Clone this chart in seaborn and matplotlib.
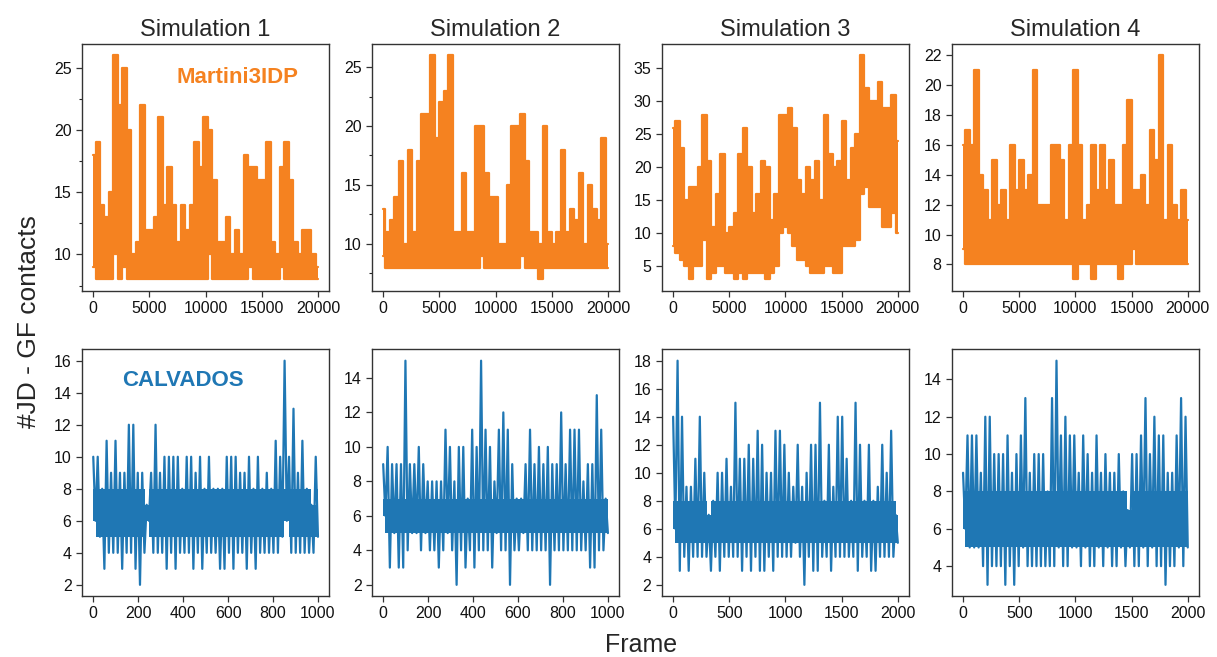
import numpy as np
import matplotlib
matplotlib.use("Agg")
import matplotlib.pyplot as plt
from matplotlib.ticker import MultipleLocator
import seaborn as sns

# Envelope values (upper / lower contact count per window)
# Martini3IDP: 20000 frames, one value every 400 frames
m1_hi = [18, 19, 14, 13, 15, 26, 22, 25, 20, 10,
         11, 22, 12, 12, 13, 21, 14, 17, 14, 11,
         14, 12, 14, 19, 17, 21, 20, 16, 11, 11,
         13, 10, 12, 10, 18, 17, 17, 16, 16, 19,
         11, 10, 17, 19, 16, 11, 10, 12, 12, 10, 9]
m1_lo = [9, 8, 8, 8, 8, 10, 8, 9, 8, 8,
         8, 8, 8, 8, 8, 8, 8, 8, 8, 8,
         8, 8, 8, 8, 8, 8, 10, 8, 8, 8,
         8, 8, 8, 8, 8, 9, 8, 8, 8, 8,
         8, 8, 9, 8, 8, 8, 8, 8, 8, 8, 8]

m2_hi = [13, 11, 12, 14, 17, 10, 18, 11, 17, 21,
         21, 26, 19, 22, 23, 26, 11, 11, 16, 11,
         11, 20, 20, 16, 14, 14, 10, 10, 15, 20,
         20, 21, 17, 11, 11, 10, 20, 11, 10, 11,
         18, 11, 13, 12, 16, 10, 15, 13, 12, 19, 10]
m2_lo = [9, 8, 8, 8, 8, 8, 8, 8, 8, 8,
         8, 8, 8, 8, 8, 8, 8, 8, 8, 8,
         8, 8, 9, 8, 8, 8, 8, 8, 8, 8,
         8, 9, 8, 8, 8, 7, 8, 8, 8, 8,
         8, 8, 8, 8, 8, 8, 8, 8, 8, 8, 8]

m3_hi = [26, 27, 23, 15, 17, 17, 20, 28, 21, 11,
         16, 22, 10, 11, 13, 22, 26, 20, 13, 16,
         21, 20, 12, 16, 28, 28, 29, 26, 18, 16,
         20, 18, 21, 15, 28, 22, 20, 21, 27, 18,
         23, 25, 37, 32, 30, 30, 33, 29, 29, 31, 24]
m3_lo = [8, 7, 6, 5, 3, 5, 5, 9, 3, 4,
         5, 5, 4, 4, 3, 4, 3, 4, 4, 4,
         4, 3, 4, 5, 10, 11, 10, 8, 6, 6,
         5, 4, 4, 4, 5, 5, 4, 4, 8, 8,
         8, 9, 16, 17, 14, 14, 14, 11, 11, 13, 10]

m4_hi = [16, 17, 16, 21, 14, 13, 11, 15, 12, 13,
         11, 16, 13, 15, 13, 14, 21, 12, 12, 12,
         16, 16, 15, 11, 16, 21, 16, 11, 12, 16,
         13, 16, 13, 15, 12, 12, 16, 19, 13, 13,
         14, 12, 17, 15, 22, 11, 16, 12, 11, 13, 11]
m4_lo = [9, 8, 8, 8, 8, 8, 8, 8, 8, 8,
         8, 8, 8, 8, 8, 8, 8, 8, 8, 8,
         8, 8, 8, 8, 8, 7, 8, 8, 8, 7,
         8, 8, 8, 8, 8, 7, 8, 8, 9, 8,
         8, 8, 8, 8, 8, 8, 8, 8, 8, 8, 8]

# CALVADOS: sims 1-2 have 1000 frames (every 20), sims 3-4 have 2000 frames (every 40)
c1_hi = [10, 10, 8, 11, 9, 11, 9, 9, 12, 12,
         9, 9, 7, 9, 12, 9, 10, 10, 10, 10,
         8, 10, 10, 9, 10, 8, 10, 8, 8, 8,
         10, 10, 10, 9, 9, 10, 8, 10, 8, 9,
         8, 11, 10, 16, 10, 13, 9, 11, 8, 7, 10]
c1_lo = [6, 5, 3, 4, 4, 4, 3, 4, 4, 3,
         2, 4, 6, 4, 4, 4, 3, 4, 3, 4,
         4, 4, 3, 4, 3, 4, 4, 4, 3, 3,
         4, 3, 4, 4, 3, 4, 3, 4, 4, 4,
         4, 4, 5, 6, 4, 4, 4, 4, 4, 4, 5]

c2_hi = [9, 10, 9, 9, 9, 15, 9, 9, 10, 9,
         8, 8, 8, 8, 11, 10, 8, 10, 10, 7,
         11, 10, 15, 11, 10, 8, 11, 12, 11, 9,
         7, 7, 9, 11, 9, 10, 9, 10, 9, 9,
         12, 9, 11, 11, 11, 8, 9, 9, 13, 11, 7]
c2_lo = [6, 3, 5, 3, 3, 4, 5, 5, 4, 5,
         4, 4, 3, 4, 5, 4, 2, 4, 3, 4,
         3, 4, 4, 4, 3, 5, 4, 4, 2, 4,
         4, 5, 4, 4, 4, 4, 4, 2, 4, 4,
         4, 4, 4, 4, 4, 4, 3, 3, 4, 4, 5]

c3_hi = [14, 18, 14, 9, 9, 11, 14, 10, 7, 8,
         10, 10, 11, 9, 15, 11, 11, 12, 11, 13,
         12, 10, 10, 13, 13, 12, 10, 9, 12, 9,
         10, 12, 12, 15, 8, 12, 9, 14, 14, 11,
         8, 15, 12, 8, 12, 8, 9, 12, 10, 13, 7]
c3_lo = [6, 3, 4, 3, 4, 4, 4, 4, 3, 4,
         3, 4, 4, 4, 4, 3, 4, 3, 4, 3,
         3, 4, 3, 4, 4, 4, 4, 5, 4, 2,
         4, 3, 3, 4, 4, 3, 4, 4, 4, 4,
         4, 3, 4, 4, 3, 3, 4, 4, 4, 4, 5]

c4_hi = [9, 11, 11, 11, 9, 12, 12, 10, 10, 10,
         11, 9, 10, 11, 13, 9, 10, 10, 10, 8,
         13, 15, 11, 12, 11, 11, 9, 11, 10, 9,
         11, 9, 10, 9, 9, 10, 8, 7, 10, 10,
         11, 13, 10, 12, 11, 11, 9, 9, 11, 13, 12]
c4_lo = [6, 5, 5, 5, 4, 3, 4, 4, 4, 3,
         4, 3, 4, 5, 4, 4, 4, 4, 4, 4,
         4, 5, 4, 4, 5, 5, 4, 5, 4, 4,
         5, 4, 5, 4, 4, 5, 4, 5, 4, 4,
         5, 4, 5, 4, 4, 3, 4, 4, 5, 4, 5]

# typical band the CALVADOS traces sit in most of the time
c_core_lo = [5, 5, 5, 5]
c_core_hi = [8, 7, 8, 8]

titles = ["Simulation 1", "Simulation 2", "Simulation 3", "Simulation 4"]
martini = [(m1_hi, m1_lo), (m2_hi, m2_lo), (m3_hi, m3_lo), (m4_hi, m4_lo)]
calvados = [(c1_hi, c1_lo), (c2_hi, c2_lo), (c3_hi, c3_lo), (c4_hi, c4_lo)]
martini_frames = [20000, 20000, 20000, 20000]
calvados_frames = [1000, 1000, 2000, 2000]

orange = "#f58220"
blue = "#1f77b4"

sns.set_style("ticks")
plt.rcParams["font.family"] = ["Liberation Sans", "DejaVu Sans"]
plt.rcParams["axes.edgecolor"] = "#333333"
plt.rcParams["axes.linewidth"] = 1.0


def zigzag(hi, lo, n_frames):
    # alternate upper and lower readings so the line sweeps the band like the raw trace
    vals = np.column_stack([hi, lo]).ravel()
    frames = np.linspace(0, n_frames, len(vals))
    return frames, vals


fig, axes = plt.subplots(2, 4, figsize=(12.17, 6.57), dpi=100)
fig.subplots_adjust(left=0.0674, right=0.9852, top=0.933, bottom=0.0928,
                    wspace=0.173, hspace=0.239)

y_steps_top = [5, 5, 5, 2]

for i in range(4):
    # Martini3IDP: dense trace -> filled band between envelopes
    ax = axes[0, i]
    hi, lo = np.array(martini[i][0]), np.array(martini[i][1])
    x = np.linspace(0, martini_frames[i], len(hi))
    ax.fill_between(x, lo, hi, step="mid", color=orange, linewidth=0)
    sns.lineplot(x=x, y=hi, ax=ax, color=orange, linewidth=1.6, drawstyle="steps-mid")
    sns.lineplot(x=x, y=lo, ax=ax, color=orange, linewidth=1.6, drawstyle="steps-mid")
    ax.set_title(titles[i], fontsize=17)
    ax.xaxis.set_major_locator(MultipleLocator(5000))
    ax.yaxis.set_major_locator(MultipleLocator(y_steps_top[i]))
    if i < 2:
        ax.yaxis.set_minor_locator(MultipleLocator(2.5))
        ax.tick_params(axis="y", which="minor", length=2, width=0.8)

    # CALVADOS: core band plus spikes
    ax = axes[1, i]
    hi, lo = np.array(calvados[i][0]), np.array(calvados[i][1])
    x = np.linspace(0, calvados_frames[i], len(hi))
    ax.fill_between(x, np.maximum(lo, c_core_lo[i]), np.minimum(hi, c_core_hi[i]),
                    step="mid", color=blue, linewidth=0)
    xz, yz = zigzag(hi, lo, calvados_frames[i])
    sns.lineplot(x=xz, y=yz, ax=ax, color=blue, linewidth=1.6, sort=False)
    ax.xaxis.set_major_locator(MultipleLocator(200 if calvados_frames[i] == 1000 else 500))
    ax.yaxis.set_major_locator(MultipleLocator(2))

for ax in axes.flat:
    ax.set_xlabel("")
    ax.set_ylabel("")
    ax.tick_params(axis="both", which="major", labelsize=11.5, length=4, width=0.9,
                   color="#333333", labelcolor="#111111")

axes[0, 0].text(0.63, 0.865, "Martini3IDP", transform=axes[0, 0].transAxes,
                color=orange, fontsize=16, fontweight="bold", ha="center", va="center")
axes[1, 0].text(0.41, 0.875, "CALVADOS", transform=axes[1, 0].transAxes,
                color=blue, fontsize=16, fontweight="bold", ha="center", va="center")

fig.text(0.024, 0.51, "#JD - GF contacts", rotation=90, fontsize=19,
         ha="center", va="center")
fig.text(0.527, 0.007, "Frame", fontsize=18, ha="center", va="baseline")

fig.savefig("out.png", dpi=100)
